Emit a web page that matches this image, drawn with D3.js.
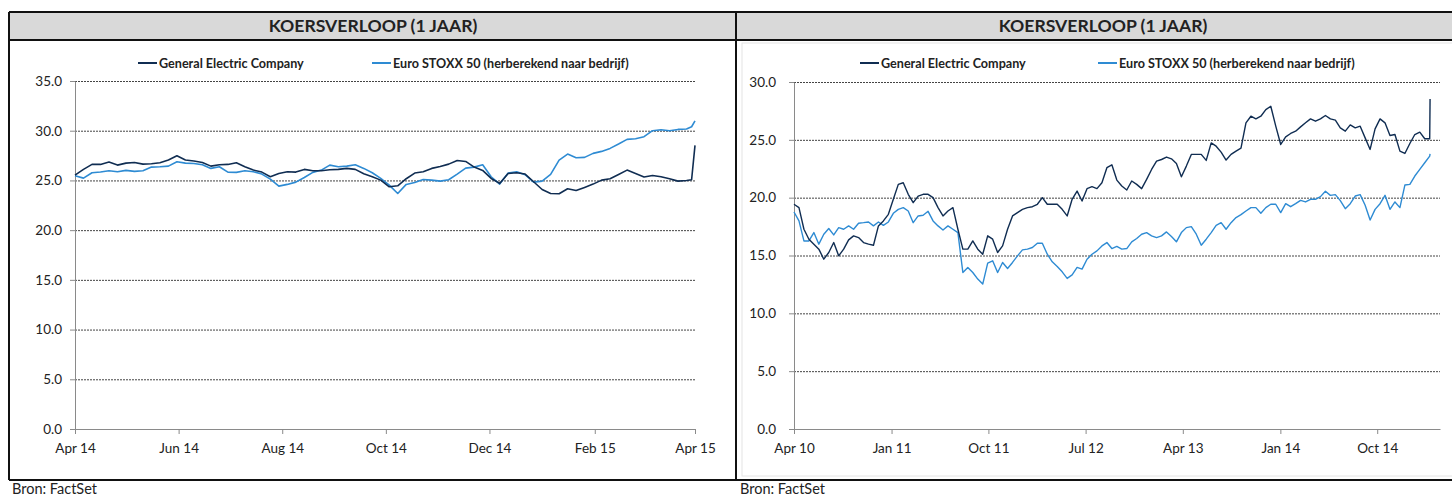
<!DOCTYPE html>
<html lang="nl">
<head>
<meta charset="UTF-8">
<title>Koersverloop</title>
<script src="https://cdnjs.cloudflare.com/ajax/libs/d3/7.8.5/d3.min.js"></script>
<style>
body { margin: 0; background: #fff; }
svg text { font-family: Lato, "Open Sans", sans-serif; fill: #222; }
</style>
<script>
// left chart: 1 year, day offsets from 1 Apr 2014
var days1 = d3.range(0, 361, 5).concat([363, 365]);
var ge1 = [
	25.54, 26.11, 26.61, 26.61, 26.85, 26.54, 26.74, 26.81, 26.64, 26.68,
	26.78, 27.05, 27.48, 27.05, 26.95, 26.81, 26.44, 26.58, 26.61, 26.78,
	26.38, 26.04, 25.84, 25.37, 25.70, 25.87, 25.84, 26.11, 25.97, 25.97,
	26.07, 26.11, 26.21, 26.11, 25.67, 25.37, 25.03, 24.36, 24.46, 25.17,
	25.74, 25.87, 26.21, 26.41, 26.64, 27.01, 26.91, 26.34, 26.01, 25.20,
	24.70, 25.70, 25.77, 25.64, 24.87, 24.09, 23.69, 23.66, 24.16, 23.99,
	24.30, 24.63, 25.03, 25.17, 25.60, 26.04, 25.70, 25.34, 25.50, 25.37,
	25.17, 24.93, 25.00, 25.07, 28.53
];
var stoxx1 = [
	25.47, 25.23, 25.77, 25.84, 25.97, 25.87, 26.01, 25.91, 25.97, 26.34,
	26.38, 26.44, 26.88, 26.74, 26.71, 26.58, 26.21, 26.38, 25.84, 25.81,
	25.97, 25.87, 25.64, 25.13, 24.43, 24.60, 24.83, 25.30, 25.81, 26.04,
	26.54, 26.38, 26.44, 26.58, 26.21, 25.77, 25.20, 24.53, 23.69, 24.60,
	24.80, 25.10, 25.03, 24.93, 25.07, 25.64, 26.24, 26.34, 26.58, 25.37,
	24.63, 25.74, 25.87, 25.57, 24.83, 24.93, 25.60, 27.05, 27.65, 27.28,
	27.32, 27.72, 27.92, 28.22, 28.66, 29.13, 29.19, 29.40, 30.00, 30.10,
	30.00, 30.13, 30.17, 30.40, 31.00
];
var yTicks1 = [0, 5, 10, 15, 20, 25, 30, 35];
var xTicks1 = ["2014-04-01", "2014-06-01", "2014-08-01", "2014-10-01", "2014-12-01", "2015-02-01", "2015-04-01"];

// right chart: 5 years, day offsets from 1 Apr 2010 (two-week steps)
var days2 = d3.range(0, 1793, 14).concat([1793]);
var ge2 = [
	19.43, 19.14, 17.27, 16.41, 15.98, 15.55, 14.68, 15.26, 16.12, 14.97,
	15.55, 16.35, 16.70, 16.55, 16.12, 15.98, 15.89, 17.56, 17.99, 18.56,
	19.86, 21.15, 21.29, 20.29, 19.57, 20.14, 20.29, 20.29, 20.00, 19.14,
	18.42, 18.85, 19.14, 17.27, 15.55, 15.55, 16.26, 15.55, 15.11, 16.70,
	16.41, 15.26, 15.83, 17.27, 18.42, 18.71, 18.99, 19.14, 19.22, 19.43,
	20.00, 19.43, 19.43, 19.43, 18.99, 18.42, 19.86, 20.57, 19.71, 20.78,
	20.95, 20.78, 21.29, 22.59, 22.84, 21.52, 21.01, 20.66, 21.44, 21.15,
	20.78, 21.58, 22.44, 23.16, 23.30, 23.51, 23.36, 22.96, 21.81, 22.73,
	23.74, 23.74, 23.74, 23.22, 24.74, 24.45, 23.94, 23.25, 23.74, 24.02,
	24.28, 26.47, 27.04, 26.81, 27.04, 27.61, 27.90, 26.18, 24.60, 25.26,
	25.55, 25.75, 26.12, 26.47, 26.81, 26.61, 26.81, 27.10, 26.81, 26.70,
	26.03, 25.75, 26.29, 26.03, 26.18, 25.17, 24.17, 25.95, 26.81, 26.47,
	25.37, 25.46, 24.02, 23.82, 24.68, 25.46, 25.66, 25.09, 25.09, 28.53
];
var stoxx2 = [
	18.76, 17.99, 16.26, 16.26, 16.98, 15.98, 16.84, 17.33, 16.78, 17.41,
	17.27, 17.56, 17.27, 17.79, 17.84, 17.90, 17.56, 17.90, 17.61, 17.90,
	18.65, 18.99, 19.14, 18.85, 17.84, 18.42, 18.48, 18.82, 17.99, 17.56,
	17.21, 17.56, 17.27, 16.98, 13.53, 13.97, 13.53, 12.96, 12.53, 14.34,
	14.54, 13.53, 14.40, 13.88, 14.40, 14.97, 15.49, 15.55, 15.69, 16.06,
	16.06, 15.11, 14.45, 14.05, 13.59, 13.02, 13.33, 13.97, 13.82, 14.68,
	15.11, 15.40, 15.83, 16.12, 15.60, 15.78, 15.55, 15.60, 16.18, 16.47,
	16.84, 16.98, 16.70, 16.55, 16.70, 17.04, 16.64, 16.18, 16.98, 17.41,
	17.50, 16.84, 15.89, 16.41, 16.98, 17.61, 17.84, 17.27, 17.84, 18.28,
	18.53, 18.85, 19.14, 19.14, 18.65, 19.14, 19.43, 19.43, 18.71, 19.48,
	19.22, 19.48, 19.77, 19.63, 19.86, 19.86, 20.09, 20.55, 20.20, 20.26,
	19.74, 19.05, 19.48, 20.14, 20.26, 19.34, 18.07, 18.99, 19.48, 20.20,
	18.99, 19.63, 19.14, 21.09, 21.15, 21.87, 22.44, 23.02, 23.59, 23.79
];
var yTicks2 = [0, 5, 10, 15, 20, 25, 30];
var xTicks2 = ["2010-04-01", "2011-01-01", "2011-10-01", "2012-07-01", "2013-04-01", "2014-01-01", "2014-10-01"];

var seriesNames = ["General Electric Company", "Euro STOXX 50 (herberekend naar bedrijf)"];
var seriesColors = ["#102d52", "#2e8bd3"];

var parseDay = d3.timeParse("%Y-%m-%d");

function drawChart(svg, o) {
	var start = parseDay(o.start);
	var x = d3.scaleTime().domain([start, parseDay(o.end)]).range([o.left, o.right]);
	var y = d3.scaleLinear().domain([0, d3.max(o.yTicks)]).range([o.bottom, o.top]);

	// dotted grid lines
	svg.append("g")
		.attr("transform", "translate(" + o.left + ",0)")
		.call(d3.axisLeft(y).tickValues(o.yTicks.filter(function(v) {return v > 0;}))
			.tickSize(-(o.right - o.left)).tickFormat(""))
		.call(function(g) {
			g.select(".domain").remove();
			g.selectAll("line").attr("stroke", "#444").attr("stroke-dasharray", "2,1");
		});

	svg.append("g")
		.attr("transform", "translate(" + o.left + ",0)")
		.call(d3.axisLeft(y).tickValues(o.yTicks).tickSize(5).tickSizeOuter(0)
			.tickPadding(o.yPad).tickFormat(d3.format(".1f")))
		.call(function(g) {
			g.select(".domain").attr("stroke", "#8a8a8a");
			g.selectAll("line").attr("stroke", "#8a8a8a");
			g.selectAll("text").attr("font-size", 13.5).attr("font-family", null).attr("fill", "#222");
		});

	svg.append("g")
		.attr("transform", "translate(0," + o.bottom + ")")
		.call(d3.axisBottom(x).tickValues(o.xTicks.map(parseDay)).tickSize(5).tickSizeOuter(0)
			.tickPadding(9).tickFormat(d3.timeFormat("%b %y")))
		.call(function(g) {
			g.select(".domain").attr("stroke", "#8a8a8a");
			g.selectAll("line").attr("stroke", "#8a8a8a");
			g.selectAll("text").attr("font-size", 13.5).attr("font-family", null).attr("fill", "#222");
		});

	var line = d3.line()
		.x(function(d) {return x(d3.timeDay.offset(start, d[0]));})
		.y(function(d) {return y(d[1]);});

	[o.stoxx, o.ge].forEach(function(vals, k) {
		svg.append("path")
			.datum(o.days.map(function(d, i) {return [d, vals[i]];}))
			.attr("fill", "none")
			.attr("stroke", seriesColors[1 - k])
			.attr("stroke-width", o.lineWidth)
			.attr("stroke-linejoin", "round")
			.attr("d", line);
	});

	// legend
	seriesNames.forEach(function(name, k) {
		var lx = o.legendX[k];
		svg.append("line")
			.attr("x1", lx).attr("x2", lx + 19)
			.attr("y1", 63).attr("y2", 63)
			.attr("stroke", seriesColors[k]).attr("stroke-width", 2);
		svg.append("text")
			.attr("x", lx + 21).attr("y", 67.5)
			.attr("font-size", 12.6).attr("font-weight", "bold")
			.text(name);
	});
}

function makeCharts() {
	var svg = d3.select("#chart");

	// panel frames
	svg.append("rect").attr("x", 9).attr("y", 12).attr("width", 1460).attr("height", 28).attr("fill", "#d9d9d9");
	svg.append("rect").attr("x", 742).attr("y", 43).attr("width", 720).attr("height", 433)
		.attr("fill", "none").attr("stroke", "#e4e4e4");
	var frame = [[9, 12, 1470, 12], [9, 40, 1470, 40], [9, 480, 1470, 480], [9, 12, 9, 480], [736, 12, 736, 480]];
	svg.selectAll("line.frame").data(frame).enter().append("line")
		.attr("class", "frame")
		.attr("x1", function(d) {return d[0];}).attr("y1", function(d) {return d[1];})
		.attr("x2", function(d) {return d[2];}).attr("y2", function(d) {return d[3];})
		.attr("stroke", "#111").attr("stroke-width", 2);

	[373, 1103].forEach(function(cx) {
		svg.append("text").attr("x", cx).attr("y", 32)
			.attr("text-anchor", "middle").attr("font-size", 17.6).attr("font-weight", "bold")
			.text("KOERSVERLOOP (1 JAAR)");
	});
	[12, 740].forEach(function(fx) {
		svg.append("text").attr("x", fx).attr("y", 494).attr("font-size", 14.5).text("Bron: FactSet");
	});

	drawChart(svg, {
		start: "2014-04-01", end: "2015-04-01",
		left: 75, right: 695, top: 81, bottom: 429,
		yTicks: yTicks1, xTicks: xTicks1, yPad: 8,
		days: days1, ge: ge1, stoxx: stoxx1,
		lineWidth: 1.6, legendX: [138, 372]
	});
	drawChart(svg, {
		start: "2010-04-01", end: "2015-03-27",
		left: 794, right: 1440, top: 82, bottom: 429,
		yTicks: yTicks2, xTicks: xTicks2, yPad: 13,
		days: days2, ge: ge2, stoxx: stoxx2,
		lineWidth: 1.4, legendX: [860, 1098]
	});
}
</script>
</head>
<body onload="makeCharts()">
<svg id="chart" width="1452" height="496"></svg>
</body>
</html>
